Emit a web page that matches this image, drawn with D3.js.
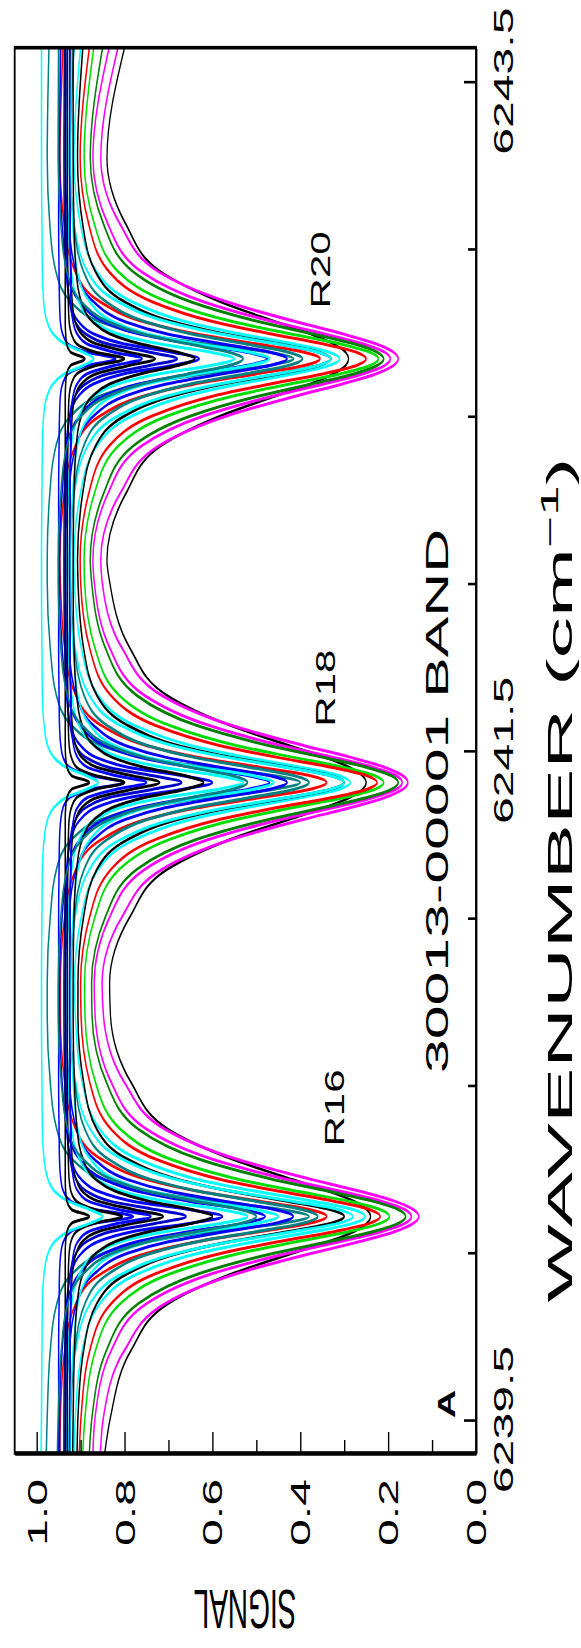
<!DOCTYPE html>
<html>
<head>
  <meta charset="UTF-8">
  <title>30013-00001 band</title>
  <script src="https://cdn.jsdelivr.net/npm/d3@7"></script>
  <style>
    body { margin: 0; background: #fff; }
    svg text { font-family: "Liberation Sans", Arial, Helvetica, sans-serif; fill: #000; }
  </style>
</head>
<body>
<div id="chart"></div>
<script>

  /// data

  // line centres in cm-1 and their labels
  var lineNames = ["R16", "R18", "R20"];
  var lineCenters = [6240.107, 6241.404, 6242.670];

  // distance from a line centre (cm-1) at which each profile value below is read
  var offsets = [0, 0.02, 0.045, 0.075, 0.11, 0.17, 0.26, 0.4, 0.6];

  var seriesColors = ["#000000", "#ff00ff", "#ff00ff", "#007f00", "#00dd00", "#ff0000",
    "#00ffff", "#000000", "#00ffff", "#ff0000", "#008080", "#008080", "#0000ff",
    "#0000ff", "#00ffff", "#0000ff", "#0000cd", "#000000", "#0000ff", "#000000",
    "#00ffff", "#000000", "#00ffff", "#000000", "#008080", "#0000ff"];

  // signal at the low and high ends of the scan
  var bottomSignal = [.845, .855, .872, .88, .895, .903, .915, .908, .927, .947, .925,
    .978, .935, .948, .931, .938, .934, .924, .95, .93, .99, .935, .923, .918, .953, .925];
  var topSignal = [.80, .815, .835, .85, .87, .88, .90, .895, .915, .94, .915,
    .972, .93, .945, .93, .937, .934, .924, .95, .93, .989, .935, .92, .917, .95, .925];

  // signal across each line, from centre outwards (one row per scan)
  var r16 = [
    [.240, .248, .277, .335, .417, .553, .700, .785, .832],
    [.130, .142, .184, .264, .373, .542, .707, .800, .848],
    [.147, .161, .214, .308, .428, .598, .749, .830, .867],
    [.160, .176, .233, .335, .460, .628, .768, .841, .874],
    [.197, .217, .288, .406, .537, .693, .809, .866, .890],
    [.218, .241, .321, .447, .579, .727, .830, .879, .899],
    [.252, .278, .368, .501, .632, .767, .856, .896, .912],
    [.300, .330, .426, .558, .677, .792, .863, .893, .906],
    [.280, .311, .414, .555, .681, .803, .878, .911, .925],
    [.340, .377, .490, .632, .749, .852, .911, .936, .946],
    [.360, .394, .499, .631, .739, .835, .890, .913, .923],
    [.380, .440, .598, .749, .846, .918, .954, .969, .976],
    [.416, .456, .570, .698, .793, .868, .909, .926, .934],
    [.480, .527, .651, .770, .846, .902, .931, .942, .948],
    [.520, .577, .706, .807, .864, .902, .920, .928, .931],
    [.577, .650, .780, .860, .898, .921, .932, .936, .938],
    [.660, .728, .831, .886, .910, .924, .930, .933, .934],
    [.712, .778, .859, .896, .910, .919, .922, .924, .924],
    [.780, .865, .922, .939, .945, .948, .949, .950, .950],
    [.805, .867, .909, .922, .926, .928, .929, .930, .930],
    [.850, .878, .928, .959, .974, .983, .987, .988, .989],
    [.880, .920, .931, .934, .935, .935, .935, .935, .935],
    [.450, .498, .623, .743, .820, .877, .906, .917, .923],
    [.600, .644, .743, .821, .865, .894, .908, .914, .917],
    [.500, .534, .634, .746, .828, .893, .929, .944, .951],
    [.740, .812, .881, .906, .916, .921, .923, .924, .925]
  ];
  var r18 = [
    [.250, .258, .287, .344, .424, .559, .703, .787, .834],
    [.155, .166, .207, .285, .391, .555, .715, .805, .851],
    [.168, .181, .233, .324, .442, .607, .754, .833, .869],
    [.177, .192, .248, .348, .470, .635, .772, .843, .875],
    [.210, .230, .300, .415, .544, .697, .812, .867, .891],
    [.225, .248, .327, .452, .582, .729, .831, .879, .900],
    [.286, .311, .397, .523, .647, .776, .860, .898, .914],
    [.300, .330, .426, .558, .677, .792, .863, .893, .906],
    [.300, .331, .430, .566, .689, .808, .880, .912, .925],
    [.340, .377, .490, .632, .749, .852, .911, .936, .946],
    [.380, .413, .514, .642, .746, .839, .892, .914, .923],
    [.400, .458, .611, .757, .851, .920, .955, .969, .976],
    [.430, .469, .580, .705, .797, .870, .910, .927, .935],
    [.470, .518, .645, .766, .844, .901, .930, .942, .948],
    [.530, .586, .711, .810, .866, .903, .920, .928, .931],
    [.600, .668, .790, .865, .900, .922, .932, .936, .938],
    [.670, .735, .835, .888, .911, .924, .930, .933, .934],
    [.720, .783, .862, .897, .911, .919, .922, .924, .924],
    [.800, .875, .925, .940, .945, .948, .949, .950, .950],
    [.800, .865, .909, .921, .926, .928, .929, .930, .930],
    [.860, .886, .933, .961, .975, .983, .987, .988, .989],
    [.880, .920, .931, .934, .935, .935, .935, .935, .935],
    [.460, .507, .629, .747, .822, .878, .906, .917, .923],
    [.620, .661, .754, .828, .869, .896, .909, .915, .917],
    [.520, .553, .648, .755, .833, .896, .930, .945, .951],
    [.750, .818, .884, .907, .916, .921, .923, .924, .925]
  ];
  var r20 = [
    [.290, .297, .325, .378, .454, .581, .717, .796, .840],
    [.177, .188, .228, .304, .407, .566, .722, .809, .854],
    [.195, .208, .258, .346, .459, .619, .761, .837, .872],
    [.210, .225, .278, .374, .491, .648, .780, .847, .878],
    [.222, .241, .310, .424, .550, .701, .814, .868, .892],
    [.250, .272, .349, .469, .595, .736, .835, .881, .901],
    [.310, .334, .417, .539, .658, .782, .863, .900, .915],
    [.330, .358, .450, .576, .689, .799, .866, .895, .907],
    [.330, .359, .454, .584, .701, .814, .884, .914, .926],
    [.355, .391, .501, .640, .754, .855, .912, .937, .947],
    [.395, .427, .526, .650, .751, .841, .893, .915, .924],
    [.415, .472, .620, .763, .854, .922, .956, .970, .976],
    [.430, .469, .580, .705, .797, .870, .910, .927, .935],
    [.475, .523, .648, .768, .845, .902, .931, .942, .948],
    [.550, .603, .722, .816, .869, .904, .921, .928, .931],
    [.630, .692, .803, .871, .904, .924, .933, .937, .938],
    [.680, .743, .839, .889, .912, .925, .930, .933, .934],
    [.730, .790, .865, .898, .912, .919, .922, .924, .924],
    [.820, .885, .929, .941, .946, .948, .949, .950, .950],
    [.800, .865, .909, .921, .926, .928, .929, .930, .930],
    [.870, .894, .937, .963, .976, .984, .987, .988, .989],
    [.890, .923, .932, .934, .935, .935, .935, .935, .935],
    [.470, .516, .636, .751, .825, .879, .907, .918, .923],
    [.640, .679, .765, .834, .872, .898, .910, .915, .917],
    [.530, .562, .656, .760, .836, .898, .931, .945, .951],
    [.760, .824, .886, .908, .917, .922, .923, .924, .925]
  ];

  // axes
  var signalTicks = [0, 0.2, 0.4, 0.6, 0.8, 1.0];
  var signalMinor = [0.1, 0.3, 0.5, 0.7, 0.9];
  var wavenumberLabels = [6239.5, 6241.5, 6243.5];
  var wavenumberMinor = [6240.0, 6240.5, 6241.0, 6242.0, 6242.5, 6243.0];
  // where the line names sit (cm-1 above centre, signal level)
  var labelShift = [0.324, 0.282, 0.266];
  var labelSignal = [0.300, 0.321, 0.332];

  /// layout

  var width = 581, height = 1648;
  var K = 2;   // the picture is stretched along the wavenumber direction
  var frame = {left: 14.7, right: 476, top: 47.7, bottom: 1453};

  var x = d3.scaleLinear().domain([0, 1.05]).range([frame.right, frame.left]);
  var y = d3.scaleLinear().domain([6239.4, 6243.6]).range([frame.bottom, frame.top]);
  var yK = d3.scaleLinear().domain(y.domain()).range(y.range().map(function(v) { return v / K; }));

  var svg = d3.select("#chart").append("svg")
    .attr("width", width)
    .attr("height", height);

  // everything drawn in here gets the same vertical stretch as the picture
  var plot = svg.append("g").attr("transform", "scale(1," + K + ")");

  plot.append("clipPath").attr("id", "clip")
    .append("rect")
      .attr("x", frame.left)
      .attr("y", frame.top / K)
      .attr("width", frame.right - frame.left)
      .attr("height", (frame.bottom - frame.top) / K);

  function scanPoints(i) {
    var pts = [{nu: y.domain()[0], s: bottomSignal[i]}];
    [r16, r18, r20].forEach(function(prof, j) {
      var p = prof[i], c = lineCenters[j];
      for (var k = offsets.length - 1; k > 0; k--) pts.push({nu: c - offsets[k], s: p[k]});
      pts.push({nu: c, s: p[0]});
      for (var k = 1; k < offsets.length; k++) pts.push({nu: c + offsets[k], s: p[k]});
    });
    pts.push({nu: y.domain()[1], s: topSignal[i]});
    return pts.reverse();   // top of the page first
  }

  var line = d3.line()
    .x(function(d) { return x(d.s); })
    .y(function(d) { return yK(d.nu); })
    .curve(d3.curveMonotoneY);

  plot.append("g")
    .attr("clip-path", "url(#clip)")
    .selectAll("path")
    .data(seriesColors.map(function(c, i) { return scanPoints(i); }))
    .enter().append("path")
      .attr("d", line)
      .attr("fill", "none")
      .attr("stroke", function(d, i) { return seriesColors[i]; })
      .attr("stroke-width", function(d, i) { return i === 0 ? 1.3 : 1.5; })
      .attr("stroke-linejoin", "round");

  // frame
  plot.append("rect")
    .attr("x", frame.left)
    .attr("y", frame.top / K)
    .attr("width", frame.right - frame.left)
    .attr("height", (frame.bottom - frame.top) / K)
    .attr("fill", "none")
    .attr("stroke", "#000")
    .attr("stroke-width", 1.8);

  // signal axis (bottom edge), ticks pointing inwards
  var sAxis = plot.append("g")
    .attr("transform", "translate(0," + frame.bottom / K + ")")
    .call(d3.axisTop(x).tickValues(signalTicks).tickSize(21 / K).tickSizeOuter(0).tickFormat(""));
  sAxis.select(".domain").attr("stroke-width", 1.8);
  sAxis.selectAll(".tick line").attr("stroke-width", 1.4);

  var sMinor = plot.append("g")
    .attr("transform", "translate(0," + frame.bottom / K + ")")
    .call(d3.axisTop(x).tickValues(signalMinor).tickSize(13 / K).tickFormat(""));
  sMinor.select(".domain").remove();
  sMinor.selectAll(".tick line").attr("stroke-width", 1.4);

  // wavenumber axis (right edge)
  var wAxis = plot.append("g")
    .attr("transform", "translate(" + frame.right + ",0)")
    .call(d3.axisLeft(yK).tickValues(wavenumberLabels).tickSize(12).tickSizeOuter(0).tickFormat(""));
  wAxis.select(".domain").attr("stroke-width", 1.8);
  wAxis.selectAll(".tick line").attr("stroke-width", 1.3);

  var wMinor = plot.append("g")
    .attr("transform", "translate(" + frame.right + ",0)")
    .call(d3.axisLeft(yK).tickValues(wavenumberMinor).tickSize(8).tickFormat(""));
  wMinor.select(".domain").remove();
  wMinor.selectAll(".tick line").attr("stroke-width", 1.3);

  /// text (all of it runs up the page)

  function upText(px, py, k, size, anchor) {
    return svg.append("text")
      .attr("transform", "translate(" + px + "," + py + ") scale(1," + k + ") rotate(-90)")
      .attr("text-anchor", anchor)
      .attr("font-size", size);
  }

  signalTicks.forEach(function(v) {
    upText(x(v) + 10, 1479, 1.72, 28, "end").text(d3.format(".1f")(v));
  });

  wavenumberLabels.forEach(function(v) {
    upText(513, y(v), 1.72, 28, "middle").text(d3.format(".1f")(v));
  });

  lineNames.forEach(function(name, j) {
    upText(x(labelSignal[j]), y(lineCenters[j] + labelShift[j]), 1.5, 28, "middle").text(name);
  });

  upText(455, 1404, 1.65, 24, "middle").attr("font-weight", "bold").text("A");

  upText(448, 801, 1.9, 32, "middle").text("30013-00001 BAND");

  var title = upText(572, 880, 2.3, 36, "middle");
  title.append("tspan").text("WAVENUMBER (cm");
  title.append("tspan").attr("font-size", 24).attr("dy", -14).text("\u22121");
  title.append("tspan").attr("dy", 14).text(")");

  // y label comes out upside down in the original
  svg.append("text")
    .attr("transform", "translate(245,1590) scale(1,2) rotate(180)")
    .attr("text-anchor", "middle")
    .attr("font-size", 28)
    .text("SIGNAL");

</script>
</body>
</html>
